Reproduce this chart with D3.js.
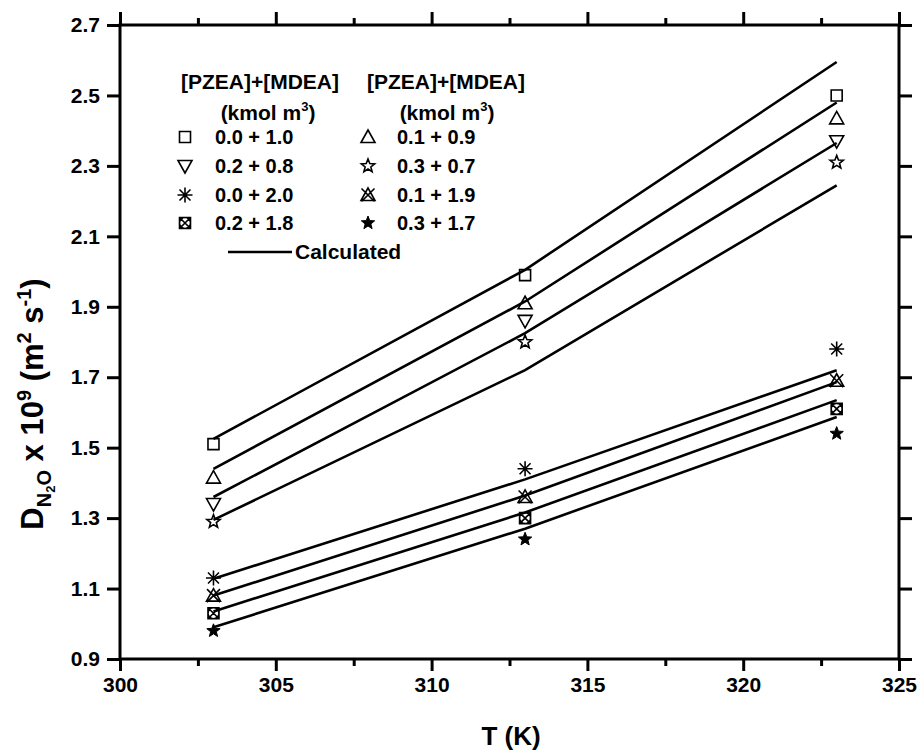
<!DOCTYPE html>
<html>
<head>
<meta charset="utf-8">
<script src="https://cdn.jsdelivr.net/npm/d3@7"></script>
<style>
body { margin: 0; background: #fff; }
text { font-family: "Liberation Sans", Arial, sans-serif; font-weight: bold; fill: #000; }
</style>
</head>
<body>
<svg width="918" height="752"></svg>
<script>
// temperatures (K) where diffusivity was measured
var temps = [303, 313, 323];

// [PZEA] + [MDEA] blends, kmol m^-3
var mixtures = ['0.0 + 1.0', '0.1 + 0.9', '0.2 + 0.8', '0.3 + 0.7',
                '0.0 + 2.0', '0.1 + 1.9', '0.2 + 1.8', '0.3 + 1.7'];

// measured D_N2O x 10^9, one row per mixture (303, 313, 323 K)
var mix01 = [1.51, 1.99, 2.50];
var mix02 = [1.415, 1.91, 2.435];
var mix03 = [1.34, 1.86, 2.37];
var mix04 = [1.29, 1.80, 2.31];
var mix05 = [1.13, 1.44, 1.78];
var mix06 = [1.08, 1.36, 1.69];
var mix07 = [1.03, 1.30, 1.61];
var mix08 = [0.98, 1.24, 1.54];
var measured = [mix01, mix02, mix03, mix04, mix05, mix06, mix07, mix08];

// calculated curves
var calc01 = [1.525, 2.005, 2.595];
var calc02 = [1.44, 1.915, 2.48];
var calc03 = [1.36, 1.825, 2.365];
var calc04 = [1.295, 1.72, 2.245];
var calc05 = [1.128, 1.41, 1.72];
var calc06 = [1.08, 1.364, 1.686];
var calc07 = [1.035, 1.316, 1.635];
var calc08 = [0.99, 1.27, 1.587];
var calculated = [calc01, calc02, calc03, calc04, calc05, calc06, calc07, calc08];

var markers = ['square', 'triangle', 'triangleDown', 'starOpen',
               'asterisk', 'triangleTimes', 'circleTimes', 'starFilled'];

var xTicks = [300, 305, 310, 315, 320, 325];
var xMinor = [302.5, 307.5, 312.5, 317.5, 322.5];
var yTicks = [0.9, 1.1, 1.3, 1.5, 1.7, 1.9, 2.1, 2.3, 2.5, 2.7];

var svg = d3.select('svg');
var plot = {l: 120, r: 899, t: 25, b: 659};

var x = d3.scaleLinear().domain([300, 325]).range([plot.l, plot.r]);
var y = d3.scaleLinear().domain([0.9, 2.7]).range([plot.b, plot.t]);

// marker path, centred at 0,0
function markerPath(kind) {
    var p = d3.path();
    var s = 5.5;
    if (kind == 'square') {
        p.rect(-s, -s, 2 * s, 2 * s);
    } else if (kind == 'triangle' || kind == 'triangleTimes') {
        p.moveTo(0, -7); p.lineTo(7, 5.5); p.lineTo(-7, 5.5); p.closePath();
        if (kind == 'triangleTimes') {
            p.moveTo(-6.5, -6.5); p.lineTo(6.5, 6.5);
            p.moveTo(6.5, -6.5); p.lineTo(-6.5, 6.5);
        }
    } else if (kind == 'triangleDown') {
        p.moveTo(0, 7); p.lineTo(7, -5.5); p.lineTo(-7, -5.5); p.closePath();
    } else if (kind == 'asterisk') {
        p.moveTo(-7.5, 0); p.lineTo(7.5, 0);
        p.moveTo(0, -7.5); p.lineTo(0, 7.5);
        p.moveTo(-5.5, -5.5); p.lineTo(5.5, 5.5);
        p.moveTo(5.5, -5.5); p.lineTo(-5.5, 5.5);
    } else if (kind == 'circleTimes') {
        p.moveTo(5.5, 0); p.arc(0, 0, 5.5, 0, 2 * Math.PI);
        p.rect(-5.5, -5.5, 11, 11);
        p.moveTo(-5.5, -5.5); p.lineTo(5.5, 5.5);
        p.moveTo(5.5, -5.5); p.lineTo(-5.5, 5.5);
    } else {
        var R = 7, r = 3;
        for (var i = 0; i < 10; i++) {
            var a = -Math.PI / 2 + i * Math.PI / 5;
            var rr = i % 2 ? r : R;
            if (i == 0) p.moveTo(rr * Math.cos(a), rr * Math.sin(a));
            else p.lineTo(rr * Math.cos(a), rr * Math.sin(a));
        }
        p.closePath();
    }
    return p.toString();
}

function drawMarker(g, kind) {
    g.append('path')
        .attr('d', markerPath(kind))
        .attr('fill', kind == 'starFilled' ? '#000' : 'none')
        .attr('stroke', '#000')
        .attr('stroke-width', kind == 'starFilled' ? 1 : 1.6)
        .attr('stroke-linejoin', 'miter');
}

// calculated lines
var line = d3.line()
    .x(function(d, i) { return x(temps[i]); })
    .y(function(d) { return y(d); });

svg.append('g').selectAll('path')
    .data(calculated)
    .enter().append('path')
    .attr('d', line)
    .attr('fill', 'none')
    .attr('stroke', '#000')
    .attr('stroke-width', 2.6);

// measured points
measured.forEach(function(row, k) {
    row.forEach(function(v, i) {
        var g = svg.append('g')
            .attr('transform', 'translate(' + [x(temps[i]), y(v)] + ')');
        drawMarker(g, markers[k]);
    });
});

// axes
var axisBottom = d3.axisBottom(x).tickValues(xTicks).tickSize(12).tickFormat(d3.format('d'));
var axisBottomMinor = d3.axisBottom(x).tickValues(xMinor).tickSize(7).tickFormat('');
var axisTop = d3.axisBottom(x).tickValues(xTicks).tickSize(-13).tickFormat('');
var axisTopMinor = d3.axisBottom(x).tickValues(xMinor).tickSize(-7).tickFormat('');
var axisLeft = d3.axisLeft(y).tickValues(yTicks).tickSize(13).tickFormat(d3.format('.1f'));
var axisRight = d3.axisLeft(y).tickValues(yTicks).tickSize(-13).tickFormat('');

function styleAxis(g) {
    g.select('.domain').remove();
    g.selectAll('line').attr('stroke', '#000').attr('stroke-width', 3);
    g.selectAll('text').attr('font-size', 21).attr('font-family', null).attr('fill', '#000');
}

svg.append('g').attr('transform', 'translate(0,' + plot.b + ')').call(axisBottom).call(styleAxis)
    .selectAll('text').attr('y', 18).attr('dy', '0.71em');
svg.append('g').attr('transform', 'translate(0,' + plot.b + ')').call(axisBottomMinor).call(styleAxis);
svg.append('g').attr('transform', 'translate(0,' + plot.t + ')').call(axisTop).call(styleAxis);
svg.append('g').attr('transform', 'translate(0,' + plot.t + ')').call(axisTopMinor).call(styleAxis);
svg.append('g').attr('transform', 'translate(' + plot.l + ',0)').call(axisLeft).call(styleAxis)
    .selectAll('text').attr('x', -20);
svg.append('g').attr('transform', 'translate(' + plot.r + ',0)').call(axisRight).call(styleAxis);

// frame
svg.append('rect')
    .attr('x', plot.l).attr('y', plot.t)
    .attr('width', plot.r - plot.l).attr('height', plot.b - plot.t)
    .attr('fill', 'none').attr('stroke', '#000').attr('stroke-width', 3);

// axis titles
svg.append('text')
    .attr('x', 511).attr('y', 745)
    .attr('text-anchor', 'middle')
    .attr('font-size', 26)
    .text('T (K)');

var yt = svg.append('text')
    .attr('transform', 'translate(43,404) rotate(-90)')
    .attr('text-anchor', 'middle')
    .attr('font-size', 31);
yt.append('tspan').text('D');
yt.append('tspan').attr('font-size', 20).attr('dy', 8).text('N');
yt.append('tspan').attr('font-size', 13).attr('dy', 4).text('2');
yt.append('tspan').attr('font-size', 20).attr('dy', -4).text('O');
yt.append('tspan').attr('dy', -8).text(' x 10');
yt.append('tspan').attr('font-size', 20).attr('dy', -12).text('9');
yt.append('tspan').attr('dy', 12).text(' (m');
yt.append('tspan').attr('font-size', 20).attr('dy', -12).text('2');
yt.append('tspan').attr('dy', 12).text(' s');
yt.append('tspan').attr('font-size', 20).attr('dy', -12).text('-1');
yt.append('tspan').attr('dy', 12).text(')');

// legend
var legendCols = [{head: 260, unit: 268, sym: 185, txt: 215}, {head: 446, unit: 447, sym: 368, txt: 397}];
var legendRows = [137, 166, 195, 223];
var legendOrder = [[0, 2, 4, 6], [1, 3, 5, 7]];

legendCols.forEach(function(c, ci) {
    svg.append('text')
        .attr('x', c.head).attr('y', 82).attr('dy', '0.35em')
        .attr('text-anchor', 'middle').attr('font-size', 21)
        .text('[PZEA]+[MDEA]');
    var u = svg.append('text')
        .attr('x', c.unit).attr('y', 113).attr('dy', '0.35em')
        .attr('text-anchor', 'middle').attr('font-size', 21);
    u.append('tspan').text('(kmol m');
    u.append('tspan').attr('font-size', 13).attr('dy', -9).text('3');
    u.append('tspan').attr('dy', 9).text(')');

    legendOrder[ci].forEach(function(k, ri) {
        var g = svg.append('g')
            .attr('transform', 'translate(' + [c.sym, legendRows[ri]] + ')');
        drawMarker(g, markers[k]);
        svg.append('text')
            .attr('x', c.txt).attr('y', legendRows[ri]).attr('dy', '0.35em')
            .attr('font-size', 20)
            .text(mixtures[k]);
    });
});

svg.append('line')
    .attr('x1', 228).attr('x2', 292).attr('y1', 252).attr('y2', 252)
    .attr('stroke', '#000').attr('stroke-width', 2.6);
svg.append('text')
    .attr('x', 295).attr('y', 252).attr('dy', '0.35em')
    .attr('font-size', 21)
    .text('Calculated');
</script>
</body>
</html>
